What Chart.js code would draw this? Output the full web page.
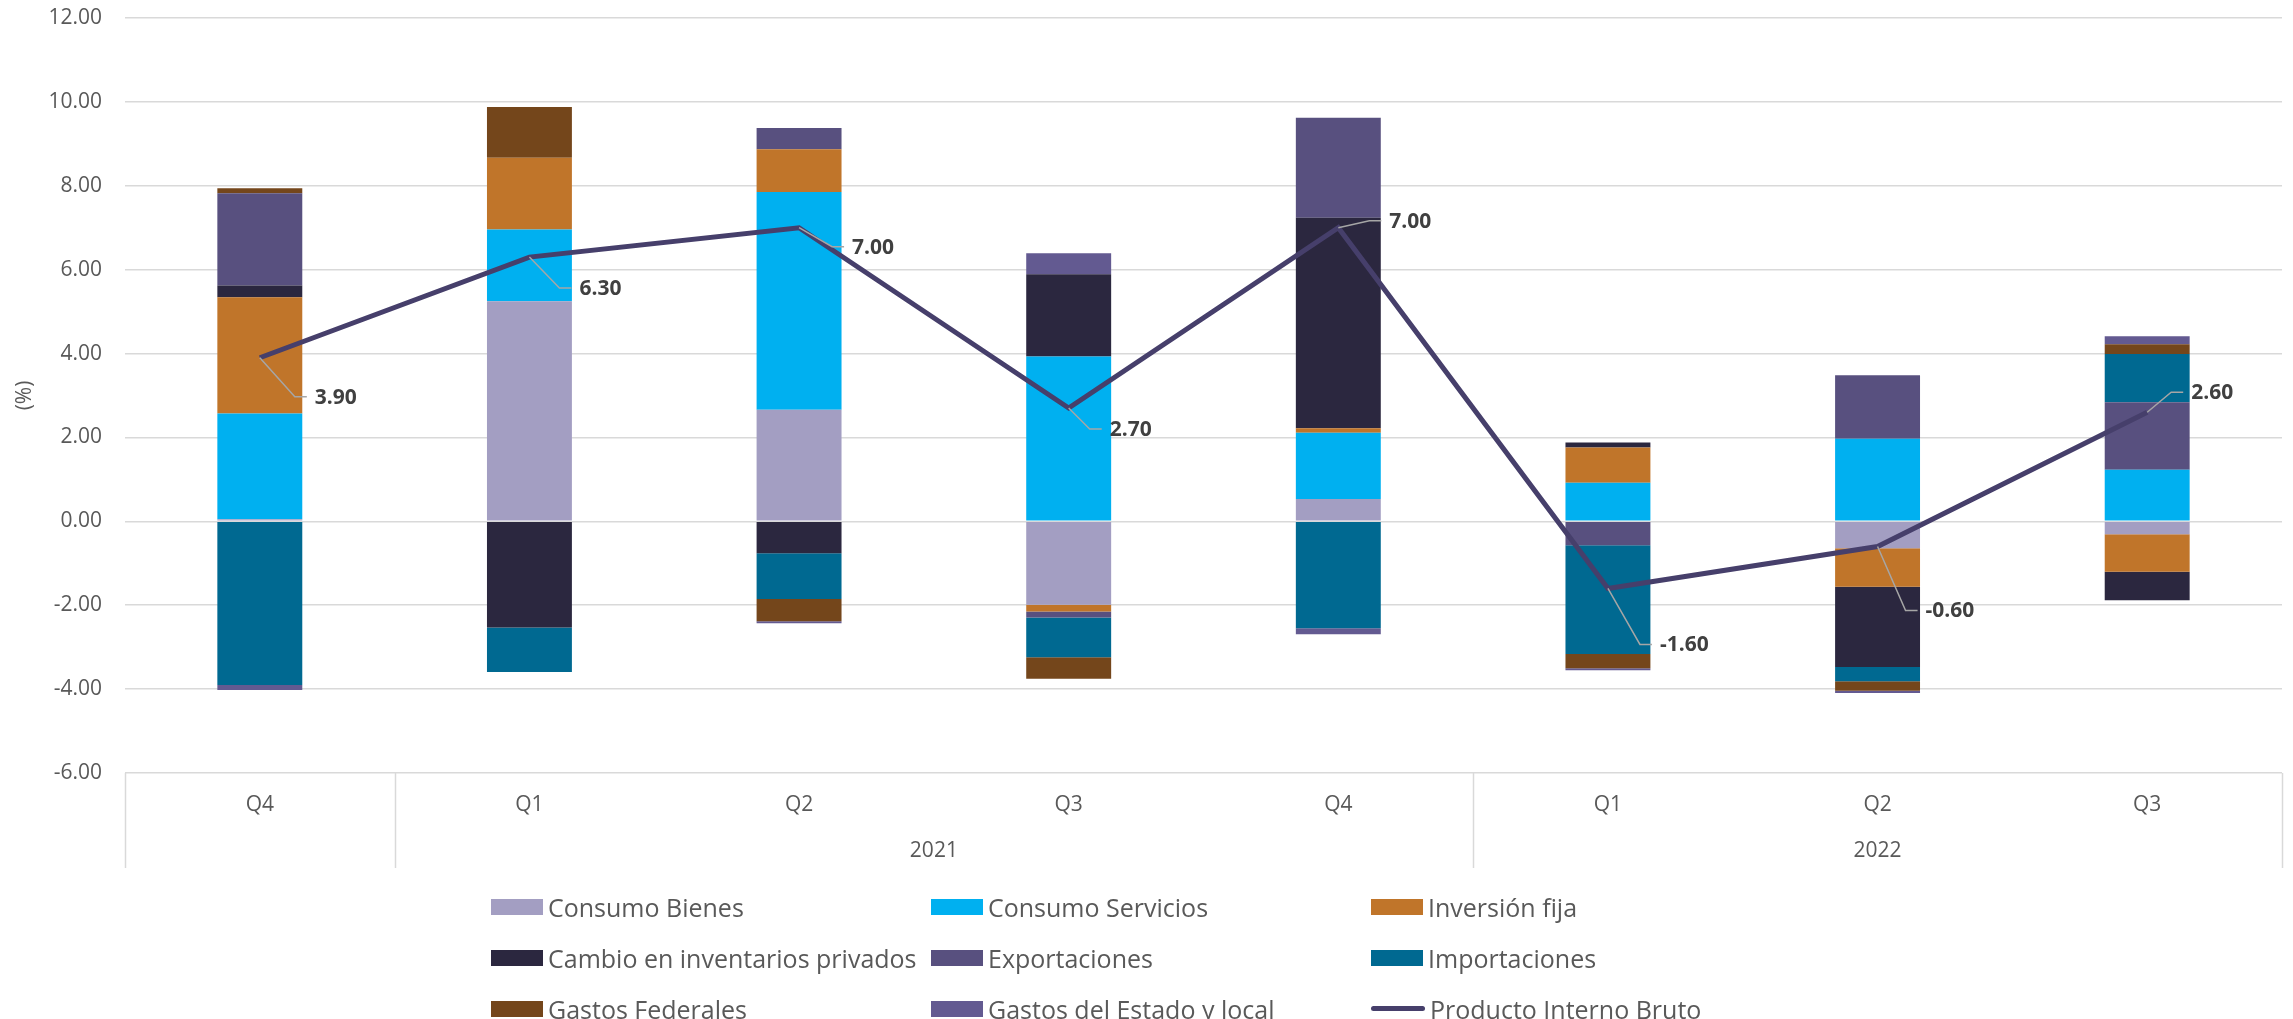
<!DOCTYPE html>
<html lang="es">
<head>
    <meta charset="UTF-8">
    <title>Contribuciones al PIB</title>
    <script src="https://cdn.jsdelivr.net/npm/chart.js"></script>
    <style>
        html, body { margin: 0; padding: 0; background: #fff; overflow: hidden; }
        #wrap { position: relative; width: 2293px; height: 1019px; }
        #legend { position: absolute; left: 491px; top: 881px; font-family: 'Open Sans', sans-serif;
                  font-size: 25px; color: #595959; }
        .row { display: flex; height: 51px; align-items: center; }
        .item { width: 440px; display: flex; align-items: center; white-space: nowrap; }
        .box { width: 52px; height: 16px; margin-right: 5px; flex: none; }
        .ln { width: 54px; height: 5px; border-radius: 3px; margin-right: 5px; flex: none; }
    </style>
</head>
<body>
<div id="wrap">
    <canvas id="chart"></canvas>
    <div id="legend"></div>
</div>
<script>
    // Categories (quarters) and year groups
    const quarters = ['Q4', 'Q1', 'Q2', 'Q3', 'Q4', 'Q1', 'Q2', 'Q3'];
    const years = ['', '2021', '2022'];
    const yearSpans = [1, 4, 3];

    // Contribuciones (puntos porcentuales)
    const consumoBienes     = [0.05, 5.25, 2.66, -1.99, 0.53, 0.00, -0.64, -0.31];
    const consumoServicios  = [2.52, 1.71, 5.19, 3.93, 1.58, 0.92, 1.97, 1.23];
    const inversionFija     = [2.77, 1.71, 1.02, -0.16, 0.11, 0.84, -0.92, -0.89];
    const cambioInventarios = [0.28, -2.53, -0.76, 1.96, 5.02, 0.12, -1.91, -0.68];
    const exportaciones     = [2.20, 0.00, 0.51, -0.14, 2.38, -0.57, 1.51, 1.61];
    const importaciones     = [-3.90, -1.06, -1.09, -0.95, -2.55, -2.59, -0.34, 1.15];
    const gastosFederales   = [0.12, 1.21, -0.53, -0.51, 0.00, -0.34, -0.23, 0.23];
    const gastosEstado      = [-0.12, 0.00, -0.05, 0.50, -0.14, -0.05, -0.05, 0.19];
    const pib               = [3.9, 6.3, 7.0, 2.7, 7.0, -1.6, -0.6, 2.6];

    // Y axis ticks
    const yMin = -6, yMax = 12, yStep = 2;

    const barSeries = [
        { label: 'Consumo Bienes', data: consumoBienes, color: '#A39EC2' },
        { label: 'Consumo Servicios', data: consumoServicios, color: '#00B0F0' },
        { label: 'Inversión fija', data: inversionFija, color: '#C0752A' },
        { label: 'Cambio en inventarios privados', data: cambioInventarios, color: '#2B273F' },
        { label: 'Exportaciones', data: exportaciones, color: '#58507F' },
        { label: 'Importaciones', data: importaciones, color: '#006991' },
        { label: 'Gastos Federales', data: gastosFederales, color: '#74461B' },
        { label: 'Gastos del Estado y local', data: gastosEstado, color: '#635A91' }
    ];
    const lineColor = '#463F6B';

    const font = "'Open Sans', sans-serif";
    const grey = '#595959';

    // Label leader-line placement: [elbow dx, dy] in px
    const labelPlacement = [[35, 39], [30, 31], [33, 19], [21, 21], [31, -7], [32, 56], [28, 64], [24, -20]];

    const pibLabels = {
        id: 'pibLabels',
        afterDatasetsDraw(chart) {
            const meta = chart.getDatasetMeta(chart.data.datasets.length - 1);
            const ctx = chart.ctx;
            ctx.save();
            meta.data.forEach((pt, i) => {
                const [ex, dy] = labelPlacement[i];
                const y2 = pt.y + dy;
                ctx.strokeStyle = '#A6A6A6';
                ctx.lineWidth = 1.5;
                ctx.beginPath();
                ctx.moveTo(pt.x, pt.y);
                ctx.lineTo(pt.x + ex, y2);
                ctx.lineTo(pt.x + ex + 12, y2);
                ctx.stroke();
                ctx.fillStyle = '#404040';
                ctx.font = 'bold 21px ' + font;
                ctx.textBaseline = 'middle';
                ctx.textAlign = 'left';
                ctx.fillText(pib[i].toFixed(2), pt.x + ex + 20, y2 + 1);
            });
            ctx.restore();
        }
    };

    const yearAxis = {
        id: 'yearAxis',
        afterDraw(chart) {
            const { ctx, chartArea } = chart;
            const n = quarters.length;
            const w = (chartArea.right - chartArea.left) / n;
            const bottom = chartArea.bottom + 95;
            ctx.save();
            ctx.strokeStyle = '#D9D9D9';
            ctx.lineWidth = 1.5;
            let idx = 0;
            const edges = [0];
            yearSpans.forEach(s => { idx += s; edges.push(idx); });
            edges.forEach(e => {
                const x = Math.round(chartArea.left + e * w) + 0.5;
                ctx.beginPath();
                ctx.moveTo(x, chartArea.bottom);
                ctx.lineTo(x, bottom);
                ctx.stroke();
            });
            ctx.fillStyle = grey;
            ctx.font = '21px ' + font;
            ctx.textAlign = 'center';
            ctx.textBaseline = 'middle';
            years.forEach((yr, k) => {
                const mid = chartArea.left + (edges[k] + edges[k + 1]) / 2 * w;
                ctx.fillText(yr, mid, chartArea.bottom + 78);
            });
            ctx.restore();
        }
    };

    const datasets = barSeries.map(s => ({
        type: 'bar',
        label: s.label,
        data: s.data,
        backgroundColor: s.color,
        borderWidth: 0,
        stack: 'c',
        order: 1,
        categoryPercentage: 1,
        barPercentage: 0.315
    }));
    datasets.push({
        type: 'line',
        label: 'Producto Interno Bruto',
        data: pib,
        borderColor: lineColor,
        borderWidth: 5,
        pointRadius: 0,
        tension: 0,
        stack: 'pib',
        order: 0
    });

    new Chart(document.getElementById('chart'), {
        data: { labels: quarters, datasets },
        options: {
            responsive: true,
            maintainAspectRatio: false,
            animation: false,
            layout: { padding: { top: 18, right: 11, bottom: 151, left: 0 } },
            plugins: { legend: { display: false }, tooltip: { enabled: false } },
            scales: {
                x: {
                    stacked: true,
                    grid: { display: false, drawTicks: false },
                    border: { display: false },
                    ticks: { color: grey, font: { family: font, size: 21 }, padding: 19 },
                    afterFit(scale) { scale.height = 95; scale.paddingLeft = 0; scale.paddingRight = 0; }
                },
                y: {
                    stacked: true,
                    min: yMin, max: yMax,
                    grid: { color: '#D9D9D9', lineWidth: 1.5, drawTicks: false },
                    border: { display: false },
                    ticks: {
                        stepSize: yStep, color: grey, padding: 23,
                        font: { family: font, size: 21 },
                        callback: v => v.toFixed(2)
                    },
                    title: { display: true, text: '(%)', color: grey, font: { family: font, size: 21 }, padding: { top: 12, bottom: 0 } },
                    afterFit(scale) { scale.width = 125; scale.paddingTop = 0; scale.paddingBottom = 0; }
                }
            }
        },
        plugins: [pibLabels, yearAxis]
    });

    // HTML legend, 3 columns
    const legendItems = barSeries.map(s => ({ label: s.label, color: s.color, line: false }));
    legendItems.push({ label: 'Producto Interno Bruto', color: lineColor, line: true });
    const legend = document.getElementById('legend');
    for (let r = 0; r < legendItems.length; r += 3) {
        const row = document.createElement('div');
        row.className = 'row';
        legendItems.slice(r, r + 3).forEach(it => {
            const el = document.createElement('div');
            el.className = 'item';
            el.innerHTML = '<span class="' + (it.line ? 'ln' : 'box') + '" style="background:' + it.color + '"></span>' + it.label;
            row.appendChild(el);
        });
        legend.appendChild(row);
    }
</script>
</body>
</html>
